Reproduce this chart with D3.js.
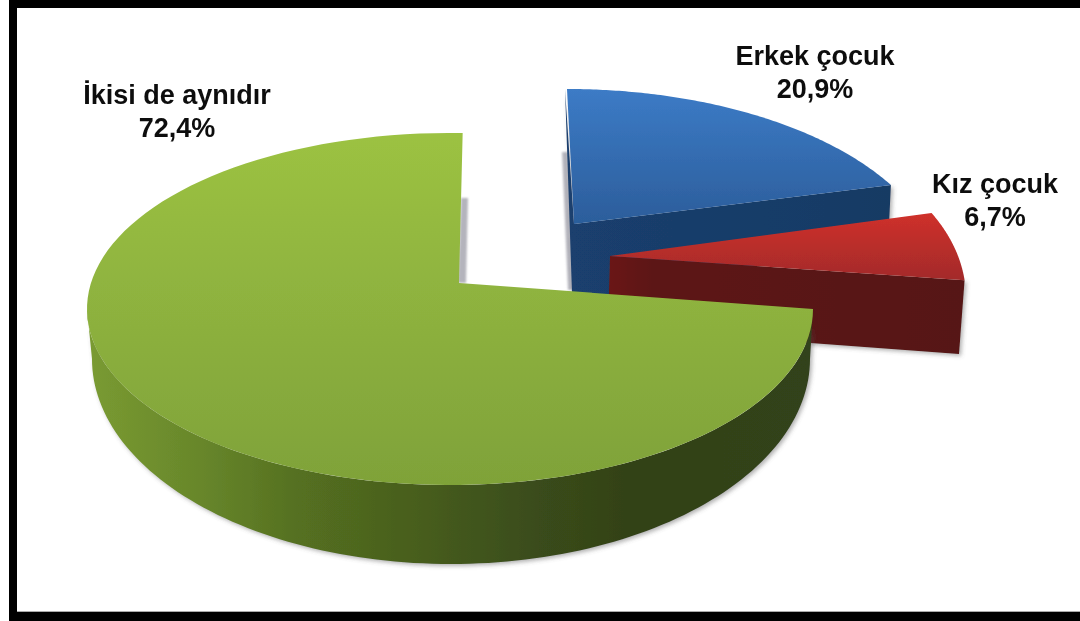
<!DOCTYPE html>
<html><head><meta charset="utf-8">
<script src="https://cdn.jsdelivr.net/npm/d3@7"></script>
<style>html,body{margin:0;padding:0;background:#fff;overflow:hidden}svg{display:block}
text{font-family:"Liberation Sans",Arial,sans-serif;font-weight:700;font-size:27px;fill:#111;text-anchor:middle}</style>
</head><body><svg id="c" width="1080" height="621"></svg>
<script>
// ---- data ----
const categories = ["Erkek çocuk", "Kız çocuk", "İkisi de aynıdır"];
const seriesValues = [20.9, 6.7, 72.4];

// ---- layout (pixels) ----
const rad = d => d * Math.PI / 180;
const geometry = [
  { // blue: exploded up-right
    top:  {cx:567, cy:281, rx:374, ry:192, phi:[0,60]},
    apex:[574,224],
    wall:[[565,89],[572,293],[640,302],[889,225]],
    cast:[[562,152],[568,152],[574,290],[568,290]],
    topStops:[["0%","#3c7bc6"],["100%","#2b5c99"]], topRange:[89,230],
    sideStops:[["0%","#1a3f6e"],["100%","#173a64"]]
  },
  { // red
    top:  {cx:709, cy:298, rx:257, ry:170, phi:[60,84]},
    apex:[610,256],
    wall:[[608,328],[959,354]],
    topStops:[["0%","#cf302b"],["100%","#a32b2a"]], topRange:[213,280],
    sideStops:[["0%","#6a1515"],["12%","#5c1612"],["100%","#571512"]]
  },
  { // green
    top:  {cx:450, cy:309, rx:363, ry:176, phi:[90,362]},
    bottom:{cx:451, cy:359, rx:359, ry:205},
    apex:[459,283],
    cast:[[461,198],[468,198],[466,283],[458,283]],
    topStops:[["0%","#9cc242"],["55%","#8cb03e"],["100%","#7fa239"]], topRange:[133,485],
    sideStops:[["0%","#7a9b31"],["16%","#67862b"],["29%","#557020"],["47%","#465c1e"],["62%","#3a4c1a"],["74%","#334218"],["100%","#33431a"]]
  }
];
const labels = [
  {x:815, y:[65,98]},
  {x:995, y:[193,226]},
  {x:177, y:[104,137]}
];
const fmt = d3.formatLocale({decimal:",",thousands:".",grouping:[3],currency:["",""]}).format(".1f");

const svg = d3.select("#c");
const defs = svg.append("defs");
const shadow = defs.append("filter").attr("id","sh").attr("x","-5%").attr("y","-5%").attr("width","110%").attr("height","112%");
shadow.append("feDropShadow").attr("dx",2).attr("dy",2).attr("stdDeviation",2).attr("flood-color","#555").attr("flood-opacity",.45);
defs.append("filter").attr("id","soft").append("feGaussianBlur").attr("stdDeviation",.5);
defs.append("filter").attr("id","softer").attr("x","-100%").attr("width","300%").append("feGaussianBlur").attr("stdDeviation",1.3);
defs.append("filter").attr("id","txt").append("feGaussianBlur").attr("stdDeviation",.35);

function grad(id, stops, x1,y1,x2,y2){
  const g = defs.append("linearGradient").attr("id",id).attr("gradientUnits","userSpaceOnUse")
    .attr("x1",x1).attr("y1",y1).attr("x2",x2).attr("y2",y2);
  stops.forEach(s=>g.append("stop").attr("offset",s[0]).attr("stop-color",s[1]));
}
const line = d3.line();
const pt = (e,phi)=>[e.cx+e.rx*Math.sin(rad(phi)), e.cy-e.ry*Math.cos(rad(phi))];
const arcPts = (e,a,b,n=120)=>d3.range(n+1).map(i=>pt(e,a+(b-a)*i/n));

const pie = d3.pie().sort(null).value(d=>d).startAngle(0).endAngle(2*Math.PI);
const arcs = pie(seriesValues);

const gPie = svg.append("g").attr("filter","url(#soft)");

arcs.forEach((d,i)=>{
  const g = geometry[i], e = g.top;
  // the data angle span is carried onto the ellipse parameter through a scale
  const toPhi = d3.scaleLinear().domain([d.startAngle,d.endAngle]).range(e.phi);
  const phiA = toPhi(d.startAngle), phiB = toPhi(d.endAngle);
  const arc = arcPts(e,phiA,phiB);
  const last = arc[arc.length-1];
  grad("top"+i,g.topStops,0,g.topRange[0],0,g.topRange[1]);
  const xs = arc.map(p=>p[0]).concat(g.apex[0]);
  grad("side"+i,g.sideStops,d3.min(xs),0,d3.max(xs),0);

  const layer = gPie.append("g");
  if(g.cast) layer.append("path").attr("d",line(g.cast)+"Z").attr("fill","#b4b4bc").attr("filter","url(#softer)");
  let wall;
  if(i===2){
    wall = arcPts(e,270,phiA).concat(arcPts(g.bottom,phiA,270));
  } else if(i===0){
    // thin left wall, cut face below the top
    wall = [g.wall[0],g.wall[1],g.wall[2],g.wall[3],last,g.apex];
  } else {
    wall = [g.apex,last,g.wall[1],g.wall[0]];
  }
  layer.append("path").attr("d",line(wall)+"Z").attr("fill",`url(#side${i})`).attr("filter","url(#sh)");
  layer.append("path").attr("d",line([g.apex].concat(arc))+"Z").attr("fill",`url(#top${i})`);
});

// labels
arcs.forEach((d,i)=>{
  const l = labels[i];
  const t = svg.append("g").attr("filter","url(#txt)");
  t.append("text").attr("x",l.x).attr("y",l.y[0]).text(categories[i]);
  t.append("text").attr("x",l.x).attr("y",l.y[1]).text(fmt(d.data)+"%");
});

// frame: top, left and bottom bands only; the right side is open
const frame = svg.append("g").attr("fill","#000");
frame.append("rect").attr("x",9).attr("y",0).attr("width",1071).attr("height",8);
frame.append("rect").attr("x",9).attr("y",0).attr("width",8).attr("height",621);
frame.append("rect").attr("x",9).attr("y",612).attr("width",1071).attr("height",9);
svg.append("rect").attr("x",17).attr("y",611).attr("width",1063).attr("height",1).attr("fill","#aaa");
</script></body></html>
